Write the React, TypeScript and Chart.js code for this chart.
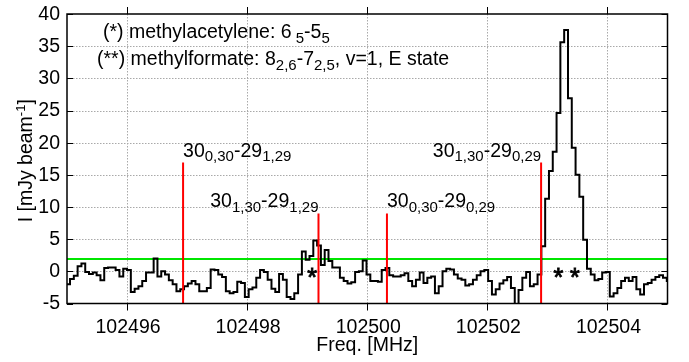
import React, { useEffect, useRef } from 'react';
import { Chart, registerables } from 'chart.js';

Chart.register(...registerables);

// ---- data ----
const FREQ_START = 102494.987; // MHz, left edge of first channel
const CHANNEL_WIDTH = 0.0633; // MHz
const INTENSITY = [
  -2.0, -1.2, -0.7, 0.8, 1.2, -0.1, -0.4, -0.2, -0.6, -1.4,
  0.5, 0.6, 0.6, 0.2, -0.8, 0.4, 0.2, -3.2, -2.7, -2.3,
  -1.5, -0.2, -0.2, 2.0, -0.8, 0.0, -0.5, -1.4, -2.0, -3.1,
  -2.8, -2.3, -1.9, -1.5, -2.0, -3.1, -3.1, -2.6, 0.3, 0.2,
  -0.5, -0.9, -3.1, -3.4, -3.2, -1.6, -1.8, -4.0, -2.8, -2.5,
  -1.0, 0.2, -0.1, -1.3, -2.7, -3.2, -0.4, -1.3, -4.0, -4.3,
  -3.4, -0.5, 3.1, 1.8, 2.4, 4.8, 4.0, 1.0, 3.3, 1.6,
  0.6, 0.6, -1.0, -1.5, -1.9, -1.7, -0.1, 0.0, 1.7, -0.5,
  -1.5, -1.5, -1.6, 0.2, 0.5, -0.6, -0.8, -0.8, -0.6, -0.3,
  -1.5, -2.3, -1.3, -0.2, -1.8, -1.0, -0.8, -3.4, -2.3, 0.0,
  0.4, 0.3, -0.5, -1.1, -1.3, -2.2, -2.0, -1.3, -0.6, 0.0,
  0.2, -1.5, -3.6, -2.8, -1.9, -1.4, -0.9, -2.6, -5.5, -2.9,
  -1.0, -0.1, -2.3, -2.0, -0.5, 3.9, 11.3, 15.6, 18.6, 24.6,
  35.6, 37.5, 26.9, 19.2, 15.0, 11.6, 4.9, 0.4, -0.5, -1.4,
  -1.2, -0.2, -0.1, -3.9, -3.4, -2.6, -1.5, -1.0, -1.5, -0.9,
  -2.8, -3.6, -2.0, -1.8, -1.3, -0.9, -0.6, -1.0, -1.5,
];

const X_MIN = 102495;
const X_MAX = 102505;
const Y_MIN = -5;
const Y_MAX = 40;
const X_TICKS = [102496, 102498, 102500, 102502, 102504];
const Y_TICKS = [-5, 0, 5, 10, 15, 20, 25, 30, 35, 40];
const THRESHOLD = 1.9;

type Part = [string, 'n' | 'sub' | 'sup'];

const LINE_FREQS = [102496.933, 102499.188, 102500.328, 102502.895];
const LINE_HEIGHTS = [16.9, 9.0, 9.0, 16.9];
const LINE_ALIGN = ['left', 'right', 'left', 'right'];
const LINE_LABELS: Part[][] = [
  [['30', 'n'], ['0,30', 'sub'], ['-29', 'n'], ['1,29', 'sub']],
  [['30', 'n'], ['1,30', 'sub'], ['-29', 'n'], ['1,29', 'sub']],
  [['30', 'n'], ['0,30', 'sub'], ['-29', 'n'], ['0,29', 'sub']],
  [['30', 'n'], ['1,30', 'sub'], ['-29', 'n'], ['0,29', 'sub']],
];

const MARKER_TEXT = ['*', '* *'];
const MARKER_FREQ = [102499.08, 102503.32];
const MARKER_LEVEL = [-0.2, -0.2];

const LEGEND_ROWS: Part[][] = [
  [['(*) methylacetylene: 6', 'n'], [' 5', 'sub'], ['-5', 'n'], ['5', 'sub']],
  [['(**) methylformate: 8', 'n'], ['2,6', 'sub'], ['-7', 'n'], ['2,5', 'sub'], [', v=1, E state', 'n']],
];

const X_TITLE = 'Freq. [MHz]';
const Y_TITLE: Part[] = [['I [mJy beam', 'n'], ['-1', 'sup'], [']', 'n']];

// ---- drawing helpers ----
const FONT_FAMILY = '"Liberation Sans", Arial, Helvetica, sans-serif';
const MAIN_SIZE = 19.5;
const SMALL_SIZE = 15;
const font = (s: number) => `${s}px ${FONT_FAMILY}`;

function drawRich(ctx: CanvasRenderingContext2D, parts: Part[], x: number, y: number, align: string) {
  const widths = parts.map(([t, k]) => {
    ctx.font = font(k === 'n' ? MAIN_SIZE : k === 'sup' ? 13 : SMALL_SIZE);
    return ctx.measureText(t).width;
  });
  const total = widths.reduce((a, b) => a + b, 0);
  let cx = align === 'left' ? x : align === 'right' ? x - total : x - total / 2;
  ctx.textAlign = 'left';
  ctx.textBaseline = 'alphabetic';
  parts.forEach(([t, k], i) => {
    ctx.font = font(k === 'n' ? MAIN_SIZE : k === 'sup' ? 13 : SMALL_SIZE);
    const dy = k === 'sub' ? 4.5 : k === 'sup' ? -7.5 : 0;
    ctx.fillText(t, cx, y + dy);
    cx += widths[i];
  });
}

const decorPlugin = {
  id: 'decor',
  beforeDatasetsDraw(chart: any) {
    const { ctx, chartArea: a, scales } = chart;
    const xs = scales.x;
    const ys = scales.y;
    ctx.save();
    ctx.strokeStyle = '#a9a9a9';
    ctx.lineWidth = 1;
    ctx.setLineDash([1.5, 1.5]);
    for (const t of xs.ticks) {
      const px = Math.round(xs.getPixelForValue(t.value)) + 0.5;
      ctx.beginPath();
      ctx.moveTo(px, a.top);
      ctx.lineTo(px, a.bottom);
      ctx.stroke();
    }
    for (const t of ys.ticks) {
      if (t.value === Y_MIN || t.value === Y_MAX) continue;
      const py = Math.round(ys.getPixelForValue(t.value)) + 0.5;
      ctx.beginPath();
      ctx.moveTo(a.left, py);
      ctx.lineTo(a.right, py);
      ctx.stroke();
    }
    ctx.restore();
  },
  afterDatasetsDraw(chart: any) {
    const { ctx, chartArea: a, scales } = chart;
    const xs = scales.x;
    const ys = scales.y;
    ctx.save();
    ctx.setLineDash([]);
    // frame
    ctx.strokeStyle = '#000';
    ctx.lineWidth = 1.5;
    ctx.strokeRect(a.left, a.top, a.right - a.left, a.bottom - a.top);
    // ticks
    ctx.lineWidth = 1;
    for (const t of ys.ticks) {
      const py = Math.round(ys.getPixelForValue(t.value)) + 0.5;
      ctx.beginPath();
      ctx.moveTo(a.left, py);
      ctx.lineTo(a.left + 6, py);
      ctx.moveTo(a.right - 6, py);
      ctx.lineTo(a.right, py);
      ctx.stroke();
    }
    for (const t of xs.ticks) {
      const px = Math.round(xs.getPixelForValue(t.value)) + 0.5;
      ctx.beginPath();
      ctx.moveTo(px, a.bottom);
      ctx.lineTo(px, a.bottom + 7);
      ctx.moveTo(px, a.top - 7);
      ctx.lineTo(px, a.top);
      ctx.stroke();
    }
    // tick labels
    ctx.fillStyle = '#000';
    ctx.font = font(MAIN_SIZE);
    ctx.textAlign = 'right';
    ctx.textBaseline = 'middle';
    for (const t of ys.ticks) {
      ctx.fillText(String(t.value), a.left - 7, ys.getPixelForValue(t.value) + 0.5);
    }
    ctx.textAlign = 'center';
    ctx.textBaseline = 'alphabetic';
    for (const t of xs.ticks) {
      ctx.fillText(String(t.value), xs.getPixelForValue(t.value) + 1, a.bottom + 29.5);
    }
    // axis titles
    ctx.fillText(X_TITLE, (a.left + a.right) / 2, a.bottom + 47.5);
    ctx.save();
    ctx.translate(a.left - 35, (a.top + a.bottom) / 2 + 2);
    ctx.rotate(-Math.PI / 2);
    drawRich(ctx, Y_TITLE, 0, 0, 'center');
    ctx.restore();
    // transition labels
    LINE_LABELS.forEach((parts, i) => {
      const px = xs.getPixelForValue(LINE_FREQS[i]);
      const py = ys.getPixelForValue(LINE_HEIGHTS[i]) - 6;
      drawRich(ctx, parts, px, py, LINE_ALIGN[i]);
    });
    // markers
    ctx.font = font(25);
    ctx.textAlign = 'center';
    ctx.lineWidth = 0.9;
    ctx.strokeStyle = '#000';
    MARKER_TEXT.forEach((t, i) => {
      const m = ctx.measureText(t);
      const cy = ys.getPixelForValue(MARKER_LEVEL[i]);
      const base = cy + (m.actualBoundingBoxAscent - m.actualBoundingBoxDescent) / 2;
      const mx = xs.getPixelForValue(MARKER_FREQ[i]);
      ctx.fillText(t, mx, base);
      ctx.strokeText(t, mx, base);
    });
    // legend text
    drawRich(ctx, LEGEND_ROWS[0], a.left + 36, a.top + 24, 'left');
    drawRich(ctx, LEGEND_ROWS[1], a.left + 30, a.top + 51, 'left');
    ctx.restore();
  },
};

export default function App() {
  const ref = useRef<HTMLCanvasElement | null>(null);
  useEffect(() => {
    document.body.style.margin = '0';
    const canvas = ref.current;
    if (!canvas) return;
    const trace = INTENSITY.map((v, i) => ({ x: FREQ_START + i * CHANNEL_WIDTH, y: v }));
    trace.push({ x: FREQ_START + INTENSITY.length * CHANNEL_WIDTH, y: INTENSITY[INTENSITY.length - 1] });
    const redSets = LINE_FREQS.map((f, i) => ({
      data: [{ x: f, y: Y_MIN }, { x: f, y: LINE_HEIGHTS[i] }],
      borderColor: '#ff0000',
      borderWidth: 2,
      pointRadius: 0,
      order: 0,
    }));
    const chart = new Chart(canvas, {
      type: 'line',
      data: {
        datasets: [
          ...redSets,
          {
            data: trace,
            borderColor: '#000000',
            borderWidth: 2,
            pointRadius: 0,
            stepped: true,
            borderJoinStyle: 'miter',
            order: 1,
          },
          {
            data: [{ x: X_MIN, y: THRESHOLD }, { x: X_MAX, y: THRESHOLD }],
            borderColor: '#00e600',
            borderWidth: 2,
            pointRadius: 0,
            order: 2,
          },
        ] as any,
      },
      options: {
        animation: false,
        responsive: false,
        devicePixelRatio: 1,
        layout: { padding: { left: 67, top: 14, right: 21.5, bottom: 58.5 } },
        plugins: { legend: { display: false }, tooltip: { enabled: false } },
        scales: {
          x: {
            type: 'linear',
            min: X_MIN,
            max: X_MAX,
            display: false,
            afterBuildTicks: (s: any) => {
              s.ticks = X_TICKS.map((v) => ({ value: v }));
            },
          },
          y: {
            type: 'linear',
            min: Y_MIN,
            max: Y_MAX,
            display: false,
            afterBuildTicks: (s: any) => {
              s.ticks = Y_TICKS.map((v) => ({ value: v }));
            },
          },
        },
      } as any,
      plugins: [decorPlugin],
    });
    return () => chart.destroy();
  }, []);
  return (
    <div style={{ width: 689, height: 362 }}>
      <canvas ref={ref} width={689} height={362} style={{ display: 'block' }} />
    </div>
  );
}
